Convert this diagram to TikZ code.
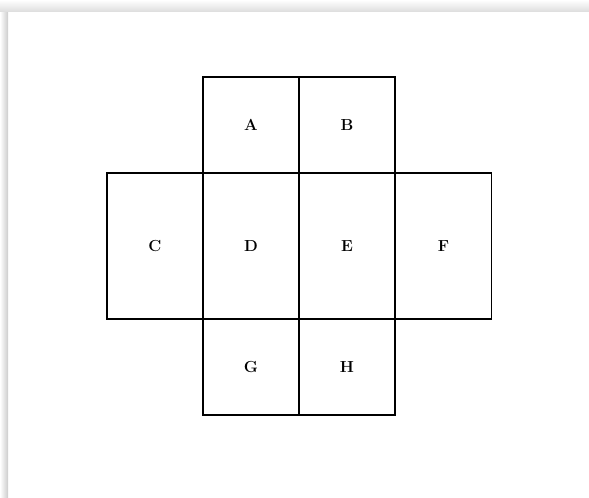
\documentclass[tikz,border=0pt]{standalone}
\usepackage{tikz}
\begin{document}
\begin{tikzpicture}[x=0.75pt, y=-0.75pt,
        cella/.style={draw, line width=1.2pt, minimum width=72pt, minimum height=72pt, font=\large\bfseries, inner sep=0pt},
        alta/.style={cella, minimum height=109.5pt}]
        % Cornice e ombra del foglio
        \useasboundingbox (0,0) rectangle (589,497);
        \shade[left color=white, right color=gray!40] (0,11) rectangle (8,497);
        \shade[top color=white, bottom color=gray!25] (0,0) rectangle (589,11);
        
        % Riga superiore
        \node[cella] (A) at (251,125) {A};
        \node[cella] (B) at (347,125) {B};
        
        % Riga centrale
        \node[alta] (C) at (155,246) {C};
        \node[alta] (D) at (251,246) {D};
        \node[alta] (E) at (347,246) {E};
        \node[alta] (F) at (443.5,246) {F};
        
        % Riga inferiore
        \node[cella] (G) at (251,367) {G};
        \node[cella] (H) at (347,367) {H};
    \end{tikzpicture}
\end{document}
